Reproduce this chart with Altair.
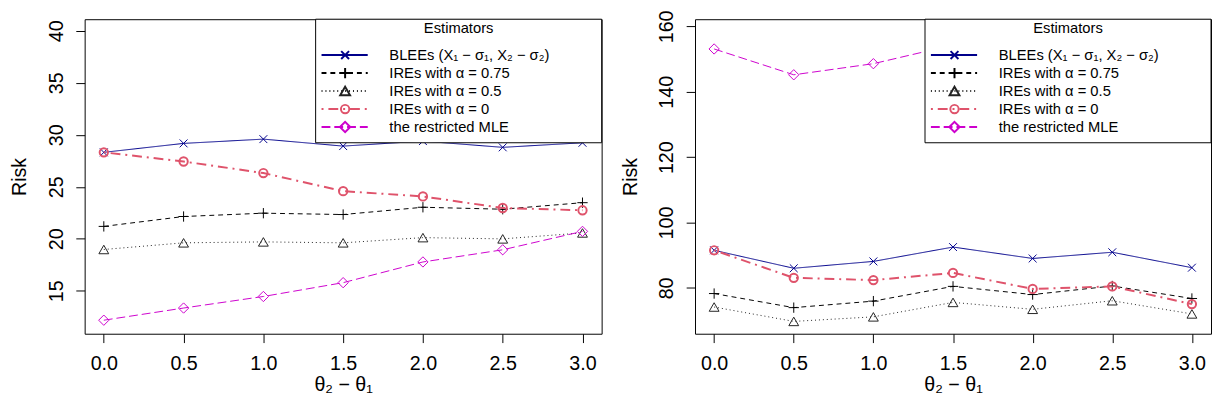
import altair as alt
import pandas as pd

# ---------------- data ----------------
x_vals = [0.0, 0.5, 1.0, 1.5, 2.0, 2.5, 3.0]

series_names = ["BLEE", "IRE075", "IRE05", "IRE0", "MLE"]
legend_labels = [
    "BLEEs (X\u2081 \u2212 \u03c3\u2081, X\u2082 \u2212 \u03c3\u2082)",
    "IREs with \u03b1 = 0.75",
    "IREs with \u03b1 = 0.5",
    "IREs with \u03b1 = 0",
    "the restricted MLE",
]

left_blee = [28.32, 29.18, 29.59, 28.92, 29.40, 28.80, 29.24]
left_ire075 = [21.20, 22.15, 22.47, 22.34, 23.04, 22.85, 23.48]
left_ire05 = [18.98, 19.62, 19.71, 19.62, 20.12, 20.00, 20.57]
left_ire0 = [28.32, 27.44, 26.33, 24.59, 24.08, 22.97, 22.75]
left_mle = [12.18, 13.35, 14.46, 15.79, 17.78, 18.95, 20.72]

right_blee = [91.52, 86.02, 88.12, 92.51, 89.02, 90.92, 86.20]
right_ire075 = [78.29, 73.98, 75.97, 80.48, 77.98, 80.60, 76.78]
right_ire05 = [74.17, 69.77, 71.16, 75.58, 73.47, 76.09, 72.06]
right_ire0 = [91.52, 83.10, 82.40, 84.60, 79.70, 80.48, 75.07]
right_mle = [153.1, 145.2, 148.6, 154.3, 158.6, 156.0, 155.0]

left_ticks = [15, 20, 25, 30, 35, 40]
right_ticks = [80, 100, 120, 140, 160]

# ---------------- styles ----------------
FONT = "Liberation Sans, Arial, Helvetica, sans-serif"
styles = {
    "BLEE": dict(color="#00008B", dash=[1, 0], width=1.0,
                 shape="M-1,-1L1,1M-1,1L1,-1", size=64, sw=1.0),
    "IRE075": dict(color="black", dash=[5, 4], width=1.0,
                   shape="M-1,0L1,0M0,-1L0,1", size=110, sw=1.0),
    "IRE05": dict(color="#222222", dash=[1, 3], width=1.0,
                  shape="triangle-up", size=100, sw=1.0),
    "IRE0": dict(color="#DF536B", dash=[2, 5, 10, 5], width=2.0,
                 shape="circle", size=72, sw=2.0),
    "MLE": dict(color="#CD00CD", dash=[9, 4], width=1.0,
                shape="diamond", size=110, sw=1.0),
}


def make_df(values_list):
    rows = []
    for name, vals in zip(series_names, values_list):
        for xv, yv in zip(x_vals, vals):
            rows.append({"series": name, "x": xv, "y": yv})
    return pd.DataFrame(rows)


def panel(values_list, ydomain, yticks, W, H):
    df = make_df(values_list)
    xs = alt.X("x:Q", scale=alt.Scale(domain=[-0.12, 3.12], nice=False, zero=False),
               axis=alt.Axis(values=x_vals, format=".1f", labelPadding=11,
                             titlePadding=2, title="\u03b8\u2082 \u2212 \u03b8\u2081",
                             labelAngle=0, labelFlush=False, labelOverlap=False))
    ys = alt.Y("y:Q", scale=alt.Scale(domain=ydomain, nice=False, zero=False),
               axis=alt.Axis(values=yticks, labelAngle=-90, labelAlign="center",
                             labelBaseline="bottom", labelPadding=10, titlePadding=17,
                             title="Risk", labelFlush=False, labelOverlap=False))
    layers = []
    for name in series_names:
        st = styles[name]
        base = alt.Chart(df).transform_filter(alt.datum.series == name)
        layers.append(base.mark_line(color=st["color"], strokeDash=st["dash"],
                                     strokeWidth=st["width"]).encode(x=xs, y=ys))
        layers.append(base.mark_point(shape=st["shape"], size=st["size"], filled=False,
                                      color=st["color"], strokeWidth=st["sw"],
                                      opacity=1).encode(x=xs, y=ys))
    # legend box (drawn on top, opaque)
    L = W - 291
    T = 0
    B = 125.7
    one = pd.DataFrame({"k": [0]})
    layers.append(alt.Chart(one).mark_rect(fill="white", stroke="black", strokeWidth=1)
                  .encode(x=alt.value(L), x2=alt.value(W), y=alt.value(T), y2=alt.value(B)))
    layers.append(alt.Chart(one).mark_text(font=FONT, fontSize=15, align="center",
                                           baseline="middle", color="black")
                  .encode(x=alt.value(L + (W - L) / 2), y=alt.value(9),
                          text=alt.value("Estimators")))
    row_y = [36.5, 54.8, 73.1, 91.4, 109.7]
    for name, lab, ry in zip(series_names, legend_labels, row_y):
        st = styles[name]
        layers.append(alt.Chart(one).mark_rule(color=st["color"], strokeDash=st["dash"],
                                               strokeWidth=2)
                      .encode(x=alt.value(L + 6), x2=alt.value(L + 53),
                              y=alt.value(ry)))
        layers.append(alt.Chart(one).mark_point(shape=st["shape"], size=st["size"],
                                                filled=False, color=st["color"],
                                                strokeWidth=2, opacity=1)
                      .encode(x=alt.value(L + 30), y=alt.value(ry)))
        layers.append(alt.Chart(one).mark_text(font=FONT, fontSize=15, align="left",
                                               baseline="middle", color="black")
                      .encode(x=alt.value(L + 75), y=alt.value(ry),
                              text=alt.value(lab)))
    return alt.layer(*layers).properties(width=W, height=H)


left = panel([left_blee, left_ire075, left_ire05, left_ire0, left_mle],
             [10.88, 41.12], left_ticks, 526, 320)
right = panel([right_blee, right_ire075, right_ire05, right_ire0, right_mle],
              [66.0, 162.2], right_ticks, 525, 320)

chart = (
    alt.hconcat(left, right, spacing=17)
    .properties(padding={"left": 1, "top": -2, "right": 0, "bottom": 0},
                background="white")
    .configure_view(stroke="black", strokeWidth=1)
    .configure_axis(grid=False, domain=False, tickColor="black", tickSize=9,
                    tickWidth=1, labelFont=FONT, labelFontSize=20, labelColor="black",
                    titleFont=FONT, titleFontSize=20, titleFontWeight="normal",
                    titleColor="black")
)

chart.save("out.html", embed_options={"renderer": "svg", "actions": False})
